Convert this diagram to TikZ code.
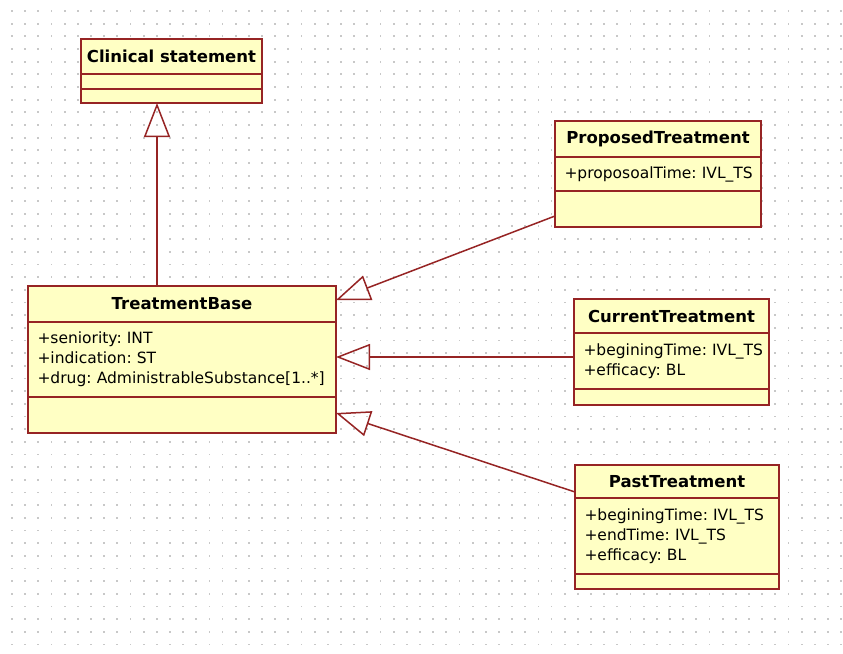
\documentclass[tikz,border=0pt]{standalone}
\usepackage{fontspec}
\setmainfont{DejaVu Sans}
\usetikzlibrary{positioning,arrows.meta}
\definecolor{umlred}{RGB}{150,36,36}
\definecolor{umlfill}{RGB}{255,255,196}
\definecolor{griddot}{RGB}{200,200,200}

\begin{document}
\begin{tikzpicture}[x=1pt,y=-1pt,
    cls/.style={draw=umlred, fill=umlfill, line width=1.6pt, inner sep=0pt, outer sep=0pt},
    ttl/.style={cls, anchor=north west, font=\fontsize{16.5}{20}\selectfont\bfseries},
    att/.style={cls, font=\fontsize{15.5}{20}\selectfont, align=left, inner xsep=9.5pt},
    gen/.style={draw=umlred, line width=1.5pt, -{Triangle[open, length=34pt, width=26pt]}}]
    \fill[white] (0,0) rectangle (843,653);
    \useasboundingbox (0,0) rectangle (843,653);
    % dotted grid
    \foreach \i in {0,...,63}
      \foreach \j in {0,...,50}
        \fill[griddot] (11.1+13.16*\i, 10.1+12.67*\j) rectangle ++(1.8,1.8);

    % Clinical statement
    \node[ttl, minimum width=181pt, minimum height=35pt] (csT) at (81,39) {Clinical statement};
    \node[att, below=0pt of csT, text width=162pt, minimum height=15pt] (csA) {};
    \node[att, below=0pt of csA, text width=162pt, minimum height=14pt] (csO) {};

    % TreatmentBase
    \node[ttl, minimum width=308pt, minimum height=36pt] (tbT) at (28,286) {TreatmentBase};
    \node[att, below=0pt of tbT, text width=289pt, minimum height=75pt] (tbA)
      {+seniority:~INT\\+indication:~ST\\+drug:~AdministrableSubstance[1..*]};
    \node[att, below=0pt of tbA, text width=289pt, minimum height=36pt] (tbO) {};

    % ProposedTreatment
    \node[ttl, minimum width=206pt, minimum height=36pt] (ptT) at (555,121) {ProposedTreatment};
    \node[att, below=0pt of ptT, text width=187pt, minimum height=34pt] (ptA) {+proposoalTime:~IVL\_TS};
    \node[att, below=0pt of ptA, text width=187pt, minimum height=36pt] (ptO) {};

    % CurrentTreatment
    \node[ttl, minimum width=195pt, minimum height=34pt] (ctT) at (574,299) {CurrentTreatment};
    \node[att, below=0pt of ctT, text width=176pt, minimum height=56pt] (ctA)
      {+beginingTime:~IVL\_TS\\+efficacy:~BL};
    \node[att, below=0pt of ctA, text width=176pt, minimum height=16pt] (ctO) {};

    % PastTreatment
    \node[ttl, minimum width=204pt, minimum height=33pt] (paT) at (575,465) {PastTreatment};
    \node[att, below=0pt of paT, text width=185pt, minimum height=76pt] (paA)
      {+beginingTime:~IVL\_TS\\+endTime:~IVL\_TS\\+efficacy:~BL};
    \node[att, below=0pt of paA, text width=185pt, minimum height=15pt] (paO) {};

    % generalizations
    \draw[gen] ([xshift=129pt]tbT.north west) -- ([xshift=76pt]csO.south west);
    \draw[gen] ([yshift=-7pt]ptO.west) -- ([yshift=4pt]tbT.east);
    \draw[gen] ([yshift=4pt]ctA.west) -- ([yshift=2.5pt]tbA.east);
    \draw[gen] ([yshift=-10.5pt]paT.west) -- ([yshift=2pt]tbO.east);
\end{tikzpicture}
\end{document}
